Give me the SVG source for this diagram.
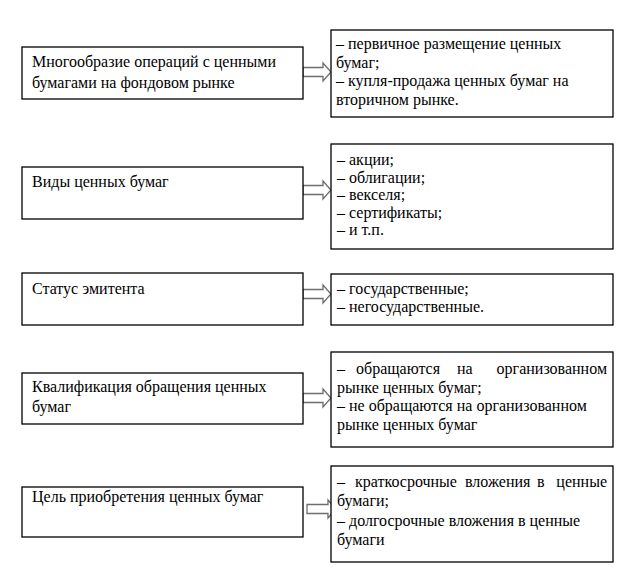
<svg xmlns="http://www.w3.org/2000/svg" width="628" height="576" viewBox="0 0 628 576">
<style>
.box{fill:#fff;stroke:#000;stroke-width:1.3}
.arr{fill:#fff;stroke:#6e6e6e;stroke-width:1.3;stroke-linejoin:miter}
text{font-family:'Liberation Serif','DejaVu Serif',serif;font-size:16px;fill:#000}
</style>
<rect width="628" height="576" fill="#fff"/>
<g id="connectors">
<path class="arr" d="M303,67.5 H323 V63 L331,72 L323,81 V76.5 H303 Z"/>
<path class="arr" d="M303,185.5 H323 V181 L331,190 L323,199 V194.5 H303 Z"/>
<path class="arr" d="M303,289.5 H323 V285 L331,294 L323,303 V298.5 H303 Z"/>
<path class="arr" d="M303,393.5 H323 V389 L331,398 L323,407 V402.5 H303 Z"/>
<path class="arr" d="M307,504.5 H328 V500 L336,509 L328,518 V513.5 H307 Z"/>
</g>
<g font-family="Liberation Serif, DejaVu Serif, serif" font-size="16" fill="#000">
<g id="n1">
<rect class="box" x="22" y="47" width="281" height="52"/>
<text x="32" y="67">Многообразие операций с ценными</text>
<text x="32" y="88">бумагами на фондовом рынке</text>
</g>
<g id="r1">
<rect class="box" x="331" y="30" width="282" height="87"/>
<text x="336" y="49">– первичное размещение ценных</text>
<text x="336" y="67.5">бумаг;</text>
<text x="336" y="86">– купля-продажа ценных бумаг на</text>
<text x="336" y="104.5">вторичном рынке.</text>
</g>
<g id="n2">
<rect class="box" x="22" y="167" width="281" height="52"/>
<text x="32" y="187">Виды ценных бумаг</text>
</g>
<g id="r2">
<rect class="box" x="331" y="144" width="282" height="105"/>
<text x="337" y="165">– акции;</text>
<text x="337" y="182.5">– облигации;</text>
<text x="337" y="200">– векселя;</text>
<text x="337" y="217.5">– сертификаты;</text>
<text x="337" y="235">– и т.п.</text>
</g>
<g id="n3">
<rect class="box" x="22" y="273" width="281" height="52"/>
<text x="32" y="294">Статус эмитента</text>
</g>
<g id="r3">
<rect class="box" x="331" y="274" width="282" height="51"/>
<text x="337" y="294">– государственные;</text>
<text x="337" y="312">– негосударственные.</text>
</g>
<g id="n4">
<rect class="box" x="22" y="373" width="281" height="51"/>
<text x="32" y="392">Квалификация обращения ценных</text>
<text x="32" y="412">бумаг</text>
</g>
<g id="r4">
<rect class="box" x="331" y="352" width="282" height="95"/>
<text y="374"><tspan x="337">–</tspan><tspan x="356">обращаются</tspan><tspan x="457">на</tspan><tspan x="607" text-anchor="end">организованном</tspan></text>
<text x="337" y="392.5">рынке ценных бумаг;</text>
<text x="337" y="411">– не обращаются на организованном</text>
<text x="337" y="429.5">рынке ценных бумаг</text>
</g>
<g id="n5">
<rect class="box" x="22" y="487" width="281" height="50"/>
<text x="32" y="502">Цель приобретения ценных бумаг</text>
</g>
<g id="r5">
<rect class="box" x="331" y="466" width="282" height="96"/>
<text y="487"><tspan x="337">–</tspan><tspan x="355">краткосрочные</tspan><tspan x="465">вложения</tspan><tspan x="537">в</tspan><tspan x="607" text-anchor="end">ценные</tspan></text>
<text x="337" y="506">бумаги;</text>
<text x="337" y="526">– долгосрочные вложения в ценные</text>
<text x="337" y="545">бумаги</text>
</g>
</g>
</svg>
